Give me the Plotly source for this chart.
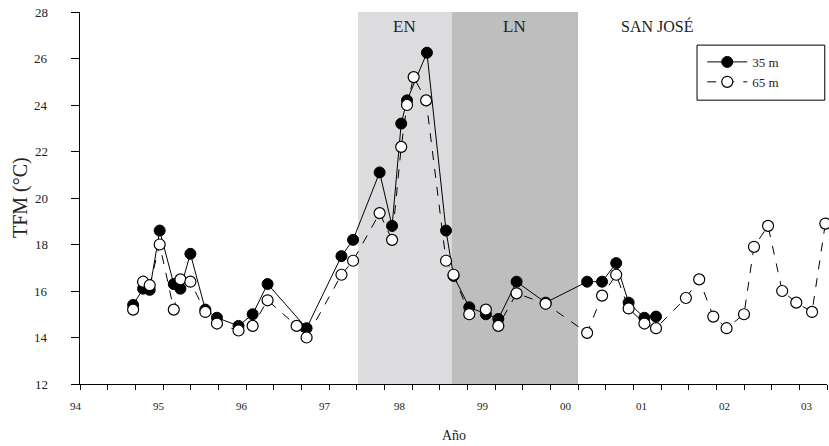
import plotly.graph_objects as go

# ---- data (decimal years, temperature °C) ----
x35 = [1994.64, 1994.76, 1994.84, 1994.96, 1995.13, 1995.21, 1995.33, 1995.51, 1995.65,
       1995.91, 1996.08, 1996.26, 1996.73, 1997.15, 1997.29, 1997.61, 1997.76, 1997.87,
       1997.94, 1998.18, 1998.41, 1998.50, 1998.69, 1998.89, 1999.04, 1999.26, 1999.61,
       2000.11, 2000.29, 2000.46, 2000.61, 2000.80, 2000.94]
t35 = [15.4, 16.1, 16.05, 18.6, 16.3, 16.1, 17.6, 15.2, 14.85,
       14.5, 15.0, 16.3, 14.4, 17.5, 18.2, 21.1, 18.8, 23.2,
       24.2, 26.25, 18.6, 16.65, 15.3, 15.0, 14.8, 16.4, 15.5,
       16.4, 16.4, 17.2, 15.5, 14.85, 14.9]

x65 = [1994.64, 1994.76, 1994.84, 1994.96, 1995.13, 1995.21, 1995.33, 1995.51, 1995.65,
       1995.91, 1996.08, 1996.26, 1996.61, 1996.73, 1997.15, 1997.29, 1997.61, 1997.76,
       1997.87, 1997.94, 1998.02, 1998.17, 1998.41, 1998.50, 1998.69, 1998.89, 1999.04,
       1999.26, 1999.61, 2000.11, 2000.29, 2000.46, 2000.61, 2000.80, 2000.94, 2001.30,
       2001.46, 2001.63, 2001.79, 2002.00, 2002.12, 2002.29, 2002.46, 2002.63, 2002.82,
       2002.98]
t65 = [15.2, 16.4, 16.25, 18.0, 15.2, 16.5, 16.4, 15.1, 14.6,
       14.3, 14.5, 15.6, 14.5, 14.0, 16.7, 17.3, 19.35, 18.2,
       22.2, 24.0, 25.2, 24.2, 17.3, 16.7, 15.0, 15.2, 14.5,
       15.9, 15.45, 14.2, 15.8, 16.7, 15.25, 14.6, 14.4, 15.7,
       16.5, 14.9, 14.4, 15.0, 17.9, 18.8, 16.0, 15.5, 15.1,
       18.9]

years = list(range(1994, 2004))
year_labels = ["94", "95", "96", "97", "98", "99", "00", "01", "02", "03"]
y_ticks = [12, 14, 16, 18, 20, 22, 24, 26, 28]

en_period = (1997.35, 1998.48)
ln_period = (1998.48, 2000.0)

X_MIN, X_MAX = 1994, 2003

FONT = "Liberation Serif, DejaVu Serif, serif"
TXT = "#222"

fig = go.Figure()

fig.add_trace(go.Scatter(
    x=x35, y=t35, name="35 m", mode="lines+markers", cliponaxis=False,
    line=dict(color="black", width=1),
    marker=dict(symbol="circle", size=11, color="black", line=dict(color="black", width=1)),
))
fig.add_trace(go.Scatter(
    x=x65, y=t65, name="65 m", mode="lines+markers", cliponaxis=False,
    line=dict(color="black", width=1, dash="dash"),
    marker=dict(symbol="circle", size=11, color="white", line=dict(color="black", width=1.2)),
))

# shaded ENSO periods
fig.add_shape(type="rect", xref="x", yref="paper", x0=en_period[0], x1=en_period[1],
              y0=0, y1=1, fillcolor="#dcdcde", line=dict(width=0), layer="below")
fig.add_shape(type="rect", xref="x", yref="paper", x0=ln_period[0], x1=ln_period[1],
              y0=0, y1=1, fillcolor="#bebebf", line=dict(width=0), layer="below")

# legend frame
fig.add_shape(type="rect", xref="paper", yref="paper", x0=0.826, x1=0.997,
              y0=0.763, y1=0.911, line=dict(color="black", width=1),
              fillcolor="rgba(0,0,0,0)", layer="above")

fig.add_annotation(x=(en_period[0] + en_period[1]) / 2, y=1, xref="x", yref="paper",
                   text="EN", showarrow=False, yanchor="top", yshift=-3,
                   font=dict(family=FONT, size=17, color=TXT))
fig.add_annotation(x=(ln_period[0] + ln_period[1]) / 2, y=1, xref="x", yref="paper",
                   text="LN", showarrow=False, yanchor="top", yshift=-3,
                   font=dict(family=FONT, size=17, color=TXT))
fig.add_annotation(x=2000.95, y=1, xref="x", yref="paper",
                   text="SAN JOSÉ", showarrow=False, yanchor="top", yshift=-3,
                   font=dict(family=FONT, size=16, color=TXT))

# x tick labels (drawn slightly left of the year ticks, as in the original)
for yr, lab in zip(years, year_labels):
    fig.add_annotation(x=(yr - X_MIN - 0.14) / (X_MAX - X_MIN), y=0,
                       xref="paper", yref="paper", text=lab,
                       showarrow=False, yanchor="middle", yshift=-22,
                       font=dict(family=FONT, size=11, color=TXT))

# y tick labels
for v in y_ticks:
    fig.add_annotation(x=0, y=v, xref="paper", yref="y", text=str(v),
                       showarrow=False, xanchor="right", yanchor="middle", xshift=-30,
                       font=dict(family=FONT, size=13, color=TXT))

# axis titles
fig.add_annotation(x=0.5, y=0, xref="paper", yref="paper", text="Año",
                   showarrow=False, yanchor="middle", yshift=-51,
                   font=dict(family=FONT, size=14, color=TXT))
fig.add_annotation(x=0, y=0.5, xref="paper", yref="paper", text="TFM (°C)",
                   showarrow=False, xanchor="center", xshift=-60, textangle=-90,
                   font=dict(family=FONT, size=20, color=TXT))

minor_vals = [X_MIN + i / 3 for i in range(0, 28)]

fig.update_layout(
    width=829, height=446,
    margin=dict(l=80, r=2, t=12, b=62),
    paper_bgcolor="white", plot_bgcolor="white",
    font=dict(family=FONT, color=TXT),
    showlegend=True,
    legend=dict(
        x=0.833, y=0.906, xanchor="left", yanchor="top",
        borderwidth=0, bgcolor="rgba(0,0,0,0)",
        font=dict(family=FONT, size=13, color=TXT),
        itemwidth=40, tracegroupgap=0,
    ),
    xaxis=dict(
        range=[X_MIN, X_MAX], showgrid=False, zeroline=False, automargin=False,
        showline=True, linecolor="black", linewidth=1,
        tickmode="array", tickvals=minor_vals, showticklabels=False,
        ticks="outside", ticklen=5, tickcolor="black", tickwidth=1,
    ),
    yaxis=dict(
        range=[12, 28], showgrid=False, zeroline=False, automargin=False,
        showline=True, linecolor="black", linewidth=1,
        tickmode="array", tickvals=y_ticks, showticklabels=False,
        ticks="outside", ticklen=8, tickcolor="black",
    ),
)

fig.write_html("out.html", config={"displayModeBar": False},
               post_script="document.body.style.margin='0';document.body.style.overflow='hidden';")
